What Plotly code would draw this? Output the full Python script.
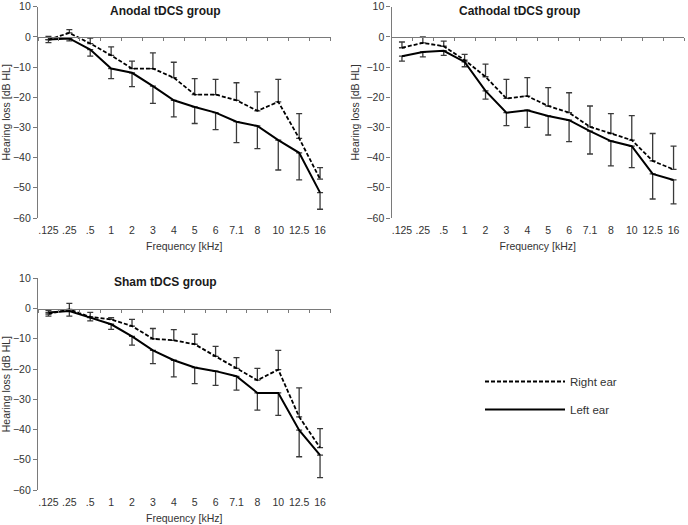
import numpy as np
import plotly.graph_objects as go

# Frequencies (kHz) shown as categories
freq_labels = ['.125', '.25', '.5', '1', '2', '3', '4', '5', '6', '7.1', '8', '10', '12.5', '16']

# Anodal tDCS group
anodal_right = [-0.9, 1.3, -2.2, -6.1, -10.5, -10.5, -13.5, -19.1, -19.1, -21.0, -24.5, -21.5, -33.6, -47.1]
anodal_right_err = [1.1, 1.1, 1.8, 2.8, 2.5, 5.2, 5.1, 5.3, 5.0, 5.8, 6.3, 7.4, 8.2, 3.8]
anodal_left = [-0.9, -0.5, -4.2, -10.5, -11.9, -16.3, -21.0, -23.2, -25.1, -28.1, -29.5, -34.2, -38.4, -51.6]
anodal_left_err = [1.0, 0.8, 2.2, 3.3, 4.6, 5.7, 5.5, 5.5, 5.6, 6.9, 7.5, 9.9, 9.0, 5.5]

# Cathodal tDCS group
cathodal_right = [-3.6, -2.0, -3.1, -7.7, -13.2, -20.4, -19.6, -22.9, -25.1, -29.8, -32.0, -34.2, -41.1, -43.9]
cathodal_right_err = [1.9, 2.0, 1.7, 1.9, 4.2, 6.3, 6.1, 6.1, 6.6, 6.9, 6.6, 8.1, 9.1, 7.7]
cathodal_left = [-6.4, -5.0, -4.6, -8.3, -17.9, -25.1, -24.3, -26.2, -27.6, -31.2, -34.5, -36.2, -45.4, -47.4]
cathodal_left_err = [1.6, 1.6, 1.5, 1.6, 2.7, 4.3, 5.7, 6.3, 7.1, 7.6, 8.2, 7.1, 8.3, 7.9]

# Sham tDCS group
sham_right = [-1.8, -0.3, -2.8, -3.6, -5.8, -10.0, -10.5, -11.8, -15.8, -19.8, -23.7, -20.2, -35.8, -46.0]
sham_right_err = [1.2, 2.0, 1.5, 0.6, 2.2, 3.4, 3.5, 3.3, 3.3, 3.6, 3.9, 6.4, 9.6, 6.3]
sham_left = [-1.3, -0.8, -3.0, -5.2, -9.2, -13.8, -17.1, -19.5, -20.7, -22.4, -27.9, -27.9, -40.2, -48.5]
sham_left_err = [1.2, 1.7, 1.1, 1.7, 2.9, 4.4, 5.5, 5.3, 4.7, 4.6, 5.7, 7.4, 8.8, 7.4]

groups = [
    ('Anodal tDCS group', anodal_right, anodal_right_err, anodal_left, anodal_left_err),
    ('Cathodal tDCS group', cathodal_right, cathodal_right_err, cathodal_left, cathodal_left_err),
    ('Sham tDCS group', sham_right, sham_right_err, sham_left, sham_left_err),
]

W, H = 688, 525
# Panel boxes in pixels: (left, right, top, bottom)
boxes = [(38, 330.5, 6.7, 218), (391.5, 684, 6.7, 218), (38, 330.5, 278.3, 490)]
title_x = [165, 519, 165]

axis_color = '#7a7a7a'
text_color = '#333333'
font_family = 'Liberation Sans, Arial, sans-serif'
y_range = [-60, 10]
x = np.arange(len(freq_labels))

fig = go.Figure()

for i, (title, right, right_err, left, left_err) in enumerate(groups):
    n = i + 1
    xa = 'x' if n == 1 else 'x%d' % n
    ya = 'y' if n == 1 else 'y%d' % n
    zero_ax = 'x%d' % (n + 3)
    zeros = [0] * len(x)

    fig.add_trace(go.Scatter(
        x=x, y=right, mode='lines', xaxis=xa, yaxis=ya,
        line=dict(color='black', width=1.8, dash='4px,2px'),
        error_y=dict(type='data', symmetric=False, array=right_err, arrayminus=zeros,
                     color='#3a3a3a', thickness=1.3, width=3),
        name='Right ear', legendgroup='right', showlegend=(n == 1), hoverinfo='y'
    ))
    fig.add_trace(go.Scatter(
        x=x, y=left, mode='lines', xaxis=xa, yaxis=ya,
        line=dict(color='black', width=2),
        error_y=dict(type='data', symmetric=False, array=zeros, arrayminus=left_err,
                     color='#3a3a3a', thickness=1.3, width=3),
        name='Left ear', legendgroup='left', showlegend=(n == 1), hoverinfo='y'
    ))
    # empty trace so the zero-line axis gets drawn
    fig.add_trace(go.Scatter(x=[], y=[], xaxis=zero_ax, yaxis=ya,
                             showlegend=False, hoverinfo='skip'))

    l, r, t, b = boxes[i]
    xdom = [l / W, r / W]
    ydom = [1 - b / H, 1 - t / H]
    zero_pos = ydom[0] + (0 - y_range[0]) / (y_range[1] - y_range[0]) * (ydom[1] - ydom[0])

    fig.update_layout({
        ('xaxis' if n == 1 else 'xaxis%d' % n): dict(
            domain=xdom, anchor=ya, range=[-0.5, len(x) - 0.5],
            tickvals=x, ticktext=freq_labels, ticks='', showline=False,
            showgrid=False, zeroline=False, automargin=False, ticklabelstandoff=4,
            tickfont=dict(size=10.5, color=text_color),
            title=dict(text='Frequency [kHz]', font=dict(size=10.5, color=text_color), standoff=8)
        ),
        ('yaxis' if n == 1 else 'yaxis%d' % n): dict(
            domain=ydom, anchor=xa, range=y_range, dtick=10,
            showline=True, linecolor=axis_color, linewidth=1.3,
            ticks='outside', ticklen=4, tickcolor=axis_color,
            showgrid=False, zeroline=False, automargin=False,
            tickfont=dict(size=10.5, color=text_color),
            title=dict(text='Hearing loss [dB HL]', font=dict(size=10.5, color=text_color), standoff=4)
        ),
        'xaxis%d' % (n + 3): dict(
            overlaying=xa, anchor='free', position=zero_pos, side='bottom',
            range=[-0.5, len(x) - 0.5], tickvals=np.arange(-0.5, len(x), 1.0),
            showticklabels=False, ticks='outside', ticklen=3, tickcolor=axis_color,
            showline=True, linecolor=axis_color, linewidth=1.3,
            showgrid=False, zeroline=False, automargin=False
        ),
    })

    fig.add_annotation(
        text='<b>%s</b>' % title, xref='paper', yref='paper',
        x=title_x[i] / W, y=1 - (t + 4) / H, xanchor='center', yanchor='middle',
        showarrow=False, font=dict(size=12, color='#1a1a1a')
    )

fig.update_layout(
    width=W, height=H,
    margin=dict(l=0, r=0, t=0, b=0, autoexpand=False),
    paper_bgcolor='white', plot_bgcolor='white',
    font=dict(family=font_family, size=11, color=text_color),
    showlegend=True,
    legend=dict(
        x=480 / W, y=1 - 367 / H, xanchor='left', yanchor='top',
        itemwidth=80, traceorder='grouped', tracegroupgap=9,
        font=dict(size=11.5, color=text_color), bgcolor='rgba(0,0,0,0)'
    ),
)

# drop the browser's default body margin so the figure sits at the page corner
fig.write_html("out.html", config={'displayModeBar': False},
               post_script="document.body.style.margin='0px';")
